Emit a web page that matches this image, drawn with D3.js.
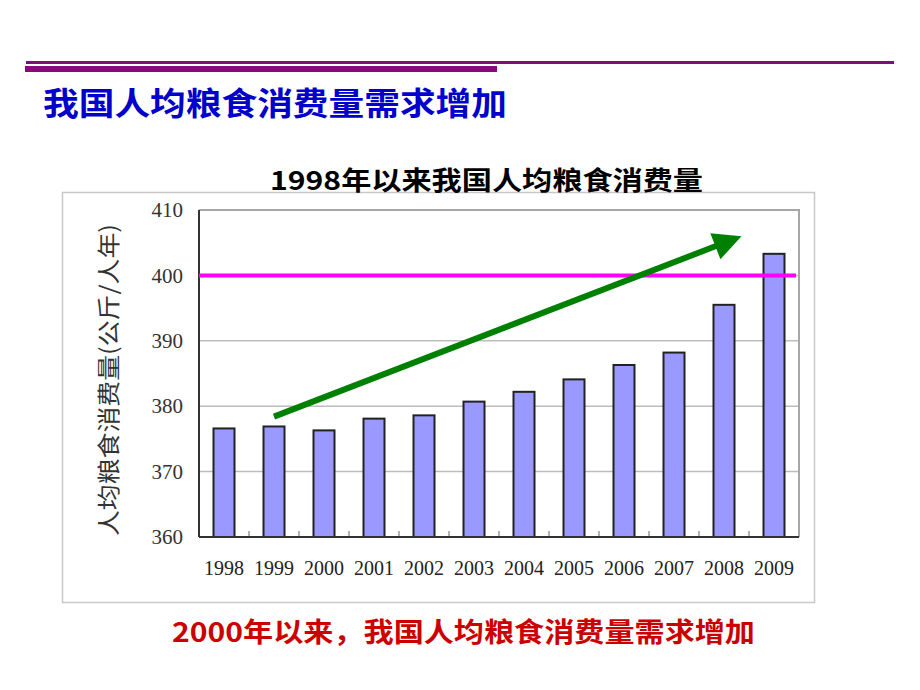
<!DOCTYPE html>
<html><head><meta charset="utf-8">
<script src="https://cdn.jsdelivr.net/npm/d3@7"></script>
<style>
html,body{margin:0;padding:0;background:#fff;}
svg{display:block;}
</style></head>
<body>
<script>
// ---- data ----
const years = ["1998","1999","2000","2001","2002","2003","2004","2005","2006","2007","2008","2009"];
const consumption = [376.6, 376.9, 376.3, 378.1, 378.6, 380.7, 382.2, 384.1, 386.3, 388.2, 395.5, 403.3];
const yTicks = [360, 370, 380, 390, 400, 410];
const refValue = 400;
const arrowFrom = [1999, 378.4];
const arrowTo = [2008.35, 406.0];
const slideTitle = "我国人均粮食消费量需求增加";
const chartTitle = "1998年以来我国人均粮食消费量";
const yTitle = "人均粮食消费量(公斤/人年)";
const footNote = "2000年以来，我国人均粮食消费量需求增加";

const W = 920, H = 690;
const svg = d3.select("body").append("svg").attr("width", W).attr("height", H);
const cjk = "'Noto Sans CJK SC','Noto Sans',sans-serif";
const serif = "'Liberation Serif','DejaVu Serif',serif";

// slide decoration lines
svg.append("rect").attr("x", 26).attr("y", 61).attr("width", 868).attr("height", 3).attr("fill", "#850a80");
svg.append("rect").attr("x", 25).attr("y", 66).attr("width", 472).attr("height", 6).attr("fill", "#850a80");

// slide title
svg.append("text").attr("x", 43).attr("y", 115)
  .attr("textLength", 464).attr("lengthAdjust", "spacingAndGlyphs")
  .style("font-family", cjk).style("font-weight", 700).style("font-size", "32px")
  .attr("fill", "#0000cc").text(slideTitle);

// chart frame
svg.append("rect").attr("x", 62.5).attr("y", 192.5).attr("width", 752).attr("height", 410)
  .attr("fill", "#fff").attr("stroke", "#c8c8c8").attr("stroke-width", 1.5);

// chart title
svg.append("text").attr("x", 270).attr("y", 190)
  .attr("textLength", 433).attr("lengthAdjust", "spacingAndGlyphs")
  .style("font-family", cjk).style("font-weight", 700).style("font-size", "26px")
  .attr("fill", "#000").text(chartTitle);

// scales
const x = d3.scaleBand().domain(years).range([199, 799]).paddingInner(0.58).paddingOuter(0.29);
const y = d3.scaleLinear().domain([360, 410]).range([537, 210]);
const step = x.step(), bw = x.bandwidth();
const xc = yr => x(years[0]) + bw / 2 + (yr - +years[0]) * step;

const g = svg.append("g");

// gridlines
g.selectAll("line.grid").data(yTicks.filter(t => t > 360 && t < 410)).enter().append("line")
  .attr("x1", 199).attr("x2", 799).attr("y1", d => y(d)).attr("y2", d => y(d))
  .attr("stroke", "#bdbdbd").attr("stroke-width", 1.5);

// plot border top/right
g.append("path").attr("d", `M199,${y(410)}H799V${y(360)}`).attr("fill", "none")
  .attr("stroke", "#a6a6a6").attr("stroke-width", 2);

// y axis labels
const yAxis = d3.axisLeft(y).tickValues(yTicks).tickSize(0).tickPadding(16);
const ya = g.append("g").attr("transform", "translate(199,0)").call(yAxis);
ya.select(".domain").remove();
ya.selectAll("text").style("font-family", serif).style("font-size", "21px").attr("fill", "#333");

// x axis
const xAxis = d3.axisBottom(x).tickSize(0).tickPadding(24);
const xa = g.append("g").attr("transform", `translate(0,${y(360)})`).call(xAxis);
xa.select(".domain").remove();
xa.selectAll("text").style("font-family", serif).style("font-size", "20px").attr("fill", "#222");

// bars
g.selectAll("rect.bar").data(years).enter().append("rect")
  .attr("x", d => x(d)).attr("width", bw)
  .attr("y", (d, i) => y(consumption[i]))
  .attr("height", (d, i) => y(360) - y(consumption[i]))
  .attr("fill", "#9999ff").attr("stroke", "#222").attr("stroke-width", 2);

// x tick marks at band boundaries
g.selectAll("line.xt").data(years.slice(0, -1)).enter().append("line")
  .attr("x1", d => x(d) + bw + (step - bw) / 2).attr("x2", d => x(d) + bw + (step - bw) / 2)
  .attr("y1", y(360)).attr("y2", y(360) - 6)
  .attr("stroke", "#999").attr("stroke-width", 1.5);

// axis lines
g.append("line").attr("x1", 199).attr("x2", 799).attr("y1", y(360)).attr("y2", y(360))
  .attr("stroke", "#333").attr("stroke-width", 2);
g.append("line").attr("x1", 199).attr("x2", 199).attr("y1", y(410)).attr("y2", y(360))
  .attr("stroke", "#333").attr("stroke-width", 2);

// reference line
g.append("line").attr("x1", 199).attr("x2", 796).attr("y1", y(refValue)).attr("y2", y(refValue))
  .attr("stroke", "#ff00ff").attr("stroke-width", 4);

// arrow
const x0 = xc(arrowFrom[0]), y0 = y(arrowFrom[1]);
const x1 = xc(arrowTo[0]), y1 = y(arrowTo[1]);
const ang = Math.atan2(y1 - y0, x1 - x0);
const headLen = 28, headHalf = 14;
const bx = x1 - headLen * Math.cos(ang), by = y1 - headLen * Math.sin(ang);
g.append("line").attr("x1", x0).attr("y1", y0).attr("x2", bx + 2 * Math.cos(ang)).attr("y2", by + 2 * Math.sin(ang))
  .attr("stroke", "#008000").attr("stroke-width", 6);
const px = -Math.sin(ang), py = Math.cos(ang);
g.append("polygon").attr("points", [
  [x1, y1],
  [bx + headHalf * px, by + headHalf * py],
  [bx - headHalf * px, by - headHalf * py]
].map(p => p.join(",")).join(" ")).attr("fill", "#008000");

// y title
svg.append("text").attr("transform", "translate(117,380) rotate(-90)")
  .attr("text-anchor", "middle")
  .attr("textLength", 312).attr("lengthAdjust", "spacingAndGlyphs")
  .style("font-family", cjk).style("font-weight", 400).style("font-size", "23px")
  .attr("fill", "#333").text(yTitle);

// foot note
svg.append("text").attr("x", 172).attr("y", 642)
  .attr("textLength", 583).attr("lengthAdjust", "spacingAndGlyphs")
  .style("font-family", cjk).style("font-weight", 700).style("font-size", "27px")
  .attr("fill", "#cc0000").text(footNote);
</script>
</body></html>
